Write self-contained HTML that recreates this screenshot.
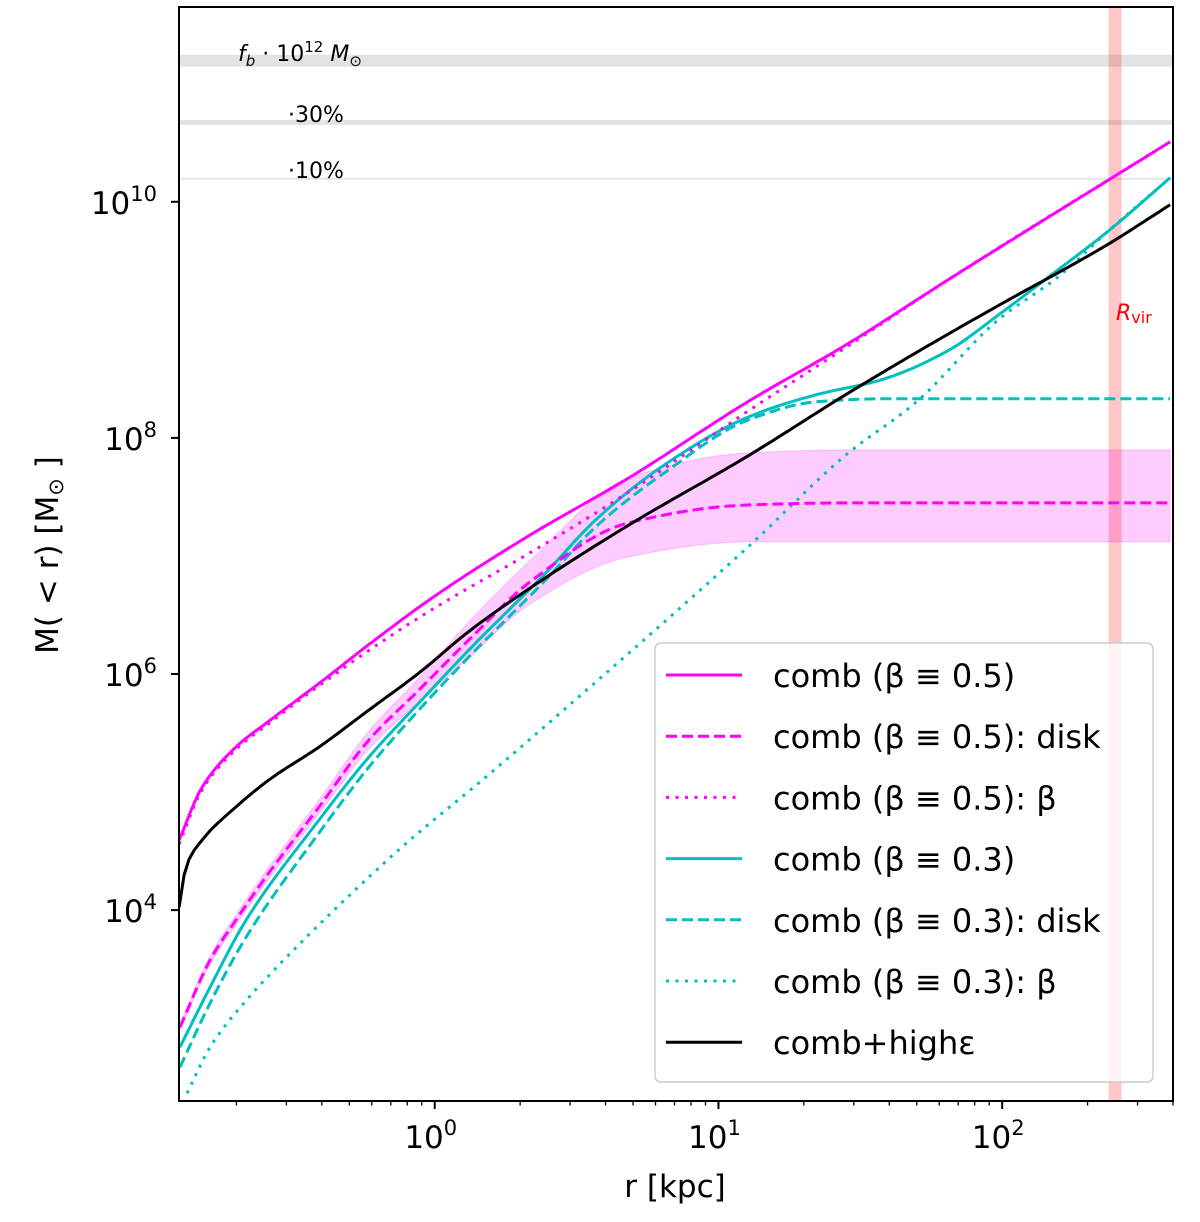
<!DOCTYPE html>
<html><head><meta charset="utf-8"><style>
html,body{margin:0;padding:0;background:#fff;}
svg text{font-family:"DejaVu Sans","Liberation Sans",sans-serif;fill:#000;}
</style></head><body>
<svg id="chart" width="1200" height="1217" viewBox="0 0 1200 1217" xmlns="http://www.w3.org/2000/svg">
<defs><clipPath id="plotclip"><rect x="179" y="7" width="994" height="1094"/></clipPath></defs>
<g id="plot" clip-path="url(#plotclip)"></g>
<g id="axes"></g>
<g id="legend"></g>
</svg>
<script>
// axis domains (log10)
const xDomain = [-0.9014, 2.6021];
const yDomain = [2.383, 11.65];
// horizontal reference levels (log10 M)
const refLevels = [11.195, 10.672, 10.195];
const refLabels = ["f_b \u00b7 10^12 M\u2299", "\u00b730%", "\u00b710%"];
const rvirLog = 2.398;
const xTicks = [0, 1, 2];
const yTicks = [4, 6, 8, 10];

// series: log10 r and log10 M
const magSolidR = [-0.901,-0.820,-0.701,-0.585,-0.408,-0.232,0,0.331,0.683,1.106,1.458,1.810,2.592];
const magSolidM = [4.593,5.042,5.381,5.60,5.92,6.25,6.66,7.17,7.66,8.31,8.80,9.34,10.508];
const magDotR = [-0.901,-0.820,-0.701,-0.585,-0.408,-0.232,0,0.331,0.683,1.106,1.458,1.810,2.592];
const magDotM = [4.56,5.02,5.36,5.58,5.90,6.20,6.56,7.02,7.54,8.23,8.78,9.34,10.508];
const magDiskR = [-0.898,-0.792,-0.701,-0.585,-0.408,-0.232,-0.056,0.120,0.331,0.683,1.106,1.458,2.592];
const magDiskM = [3.008,3.576,3.915,4.314,4.873,5.441,5.864,6.288,6.771,7.280,7.432,7.449,7.449];
const magBandHi = [3.034,3.610,3.958,4.364,4.932,5.517,5.966,6.441,6.949,7.661,7.873,7.898,7.898];
const magBandLo = [2.983,3.542,3.873,4.263,4.814,5.364,5.763,6.136,6.585,6.992,7.119,7.119,7.119];
const cyaSolidR = [-0.898,-0.792,-0.665,-0.408,-0.232,-0.056,0.120,0.391,0.567,0.799,1.106,1.342,1.574,1.810,1.986,2.162,2.373,2.592];
const cyaSolidM = [2.839,3.347,3.915,4.763,5.297,5.754,6.203,6.856,7.305,7.754,8.178,8.364,8.492,8.74,9.04,9.36,9.75,10.203];
const cyaDiskR = [-0.898,-0.792,-0.665,-0.408,-0.232,-0.056,0.120,0.391,0.567,0.799,1.106,1.342,1.574,2.592];
const cyaDiskM = [2.669,3.212,3.771,4.653,5.212,5.695,6.144,6.797,7.246,7.686,8.153,8.305,8.331,8.331];
const cyaDotR = [-0.873,-0.792,-0.673,-0.556,-0.373,-0.116,0.180,0.507,1.106,1.458,1.694,1.986,2.197,2.373,2.592];
const cyaDotM = [2.449,2.839,3.212,3.517,3.958,4.534,5.127,5.805,7.08,7.873,8.297,9.0,9.364,9.75,10.203];
const blackR = [-0.901,-0.877,-0.820,-0.701,-0.585,-0.408,-0.232,-0.056,0.120,0.331,0.683,1.106,1.458,1.810,1.986,2.373,2.592];
const blackM = [4.025,4.364,4.593,4.873,5.102,5.381,5.695,6.008,6.36,6.72,7.26,7.85,8.38,8.88,9.12,9.64,9.975];

const legendLabels = ["comb (\u03b2 \u2261 0.5)","comb (\u03b2 \u2261 0.5): disk","comb (\u03b2 \u2261 0.5): \u03b2","comb (\u03b2 \u2261 0.3)","comb (\u03b2 \u2261 0.3): disk","comb (\u03b2 \u2261 0.3): \u03b2","comb+high\u03b5"];

const PL=179, PR=1173, PT=7, PB=1101;
function X(v){return PL+(v-xDomain[0])/(xDomain[1]-xDomain[0])*(PR-PL);}
function Y(v){return PB-(v-yDomain[0])/(yDomain[1]-yDomain[0])*(PB-PT);}
const NS="http://www.w3.org/2000/svg";
function mk(tag,parent,attrs){const e=document.createElementNS(NS,tag);for(const k in attrs)e.setAttribute(k,attrs[k]);parent.appendChild(e);return e;}
function mono(xs,ys){
  const n=xs.length, d=[], m=new Array(n);
  for(let i=0;i<n-1;i++)d.push((ys[i+1]-ys[i])/(xs[i+1]-xs[i]));
  m[0]=d[0];m[n-1]=d[n-2];
  for(let i=1;i<n-1;i++){ if(d[i-1]*d[i]<=0)m[i]=0; else { const w1=2*(xs[i+1]-xs[i])+(xs[i]-xs[i-1]), w2=(xs[i+1]-xs[i])+2*(xs[i]-xs[i-1]); m[i]=(w1+w2)/(w1/d[i-1]+w2/d[i]); } }
  const out=[];
  const N=200;
  for(let k=0;k<=N;k++){
    const x=xs[0]+(xs[n-1]-xs[0])*k/N;
    let i=0; while(i<n-2&&x>xs[i+1])i++;
    const h=xs[i+1]-xs[i], t=(x-xs[i])/h;
    const h00=2*t*t*t-3*t*t+1,h10=t*t*t-2*t*t+t,h01=-2*t*t*t+3*t*t,h11=t*t*t-t*t;
    out.push([X(x),Y(h00*ys[i]+h10*h*m[i]+h01*ys[i+1]+h11*h*m[i+1])]);
  }
  return out;
}
function toD(p){return "M"+p.map(q=>q[0].toFixed(1)+","+q[1].toFixed(1)).join("L");}
const plot=document.getElementById('plot'), axes=document.getElementById('axes'), leg=document.getElementById('legend');

const refW=[12,5,2], refC=["#e3e3e3","#e3e3e3","#e6e6e6"];
refLevels.forEach((lv,i)=>{
  const r=mk('rect',plot,{x:PL,y:Y(lv)-refW[i]/2,width:PR-PL,height:refW[i],fill:refC[i]});
  
  
});
const t0=mk('text',plot,{x:238,y:61,'font-size':22});


t0.innerHTML='<tspan font-style="italic">f</tspan><tspan font-style="italic" font-size="15" dy="5">b</tspan><tspan dy="-5"> \u00b7 10</tspan><tspan font-size="15" dy="-9">12</tspan><tspan dy="9" font-style="italic"> M</tspan><tspan font-size="15" dy="5">\u2299</tspan>';
const t1=mk('text',plot,{x:288,y:122,'font-size':22});t1.textContent=refLabels[1];


const t2=mk('text',plot,{x:288,y:178,'font-size':22});t2.textContent=refLabels[2];



const hiP=mono(magDiskR,magBandHi), loP=mono(magDiskR,magBandLo).reverse();
const band=mk('path',plot,{d:toD(hiP.concat(loP))+"Z",fill:"#ff00ff","fill-opacity":0.2,stroke:"#ff00ff","stroke-opacity":0.2,"stroke-width":1});



const rv=mk('rect',plot,{x:X(rvirLog)-6.5,y:PT,width:13,height:PB-PT,fill:"#ff0000","fill-opacity":0.22});



const series=[
 {r:cyaDotR,m:cyaDotM,c:"#00bfbf",dash:"3,6.5",name:"cyan-beta-line"},
 {r:cyaDiskR,m:cyaDiskM,c:"#00bfbf",dash:"11,5",name:"cyan-disk-line"},
 {r:cyaSolidR,m:cyaSolidM,c:"#00bfbf",dash:"",name:"cyan-comb-line"},
 {r:magDotR,m:magDotM,c:"#ff00ff",dash:"3,6.5",name:"magenta-beta-line"},
 {r:magDiskR,m:magDiskM,c:"#ff00ff",dash:"11,5",name:"magenta-disk-line"},
 {r:magSolidR,m:magSolidM,c:"#ff00ff",dash:"",name:"magenta-comb-line"},
 {r:blackR,m:blackM,c:"#000000",dash:"",name:"comb-high-epsilon-line"}
];
series.forEach(s=>{
  const p=mk('path',plot,{d:toD(mono(s.r,s.m)),fill:"none",stroke:s.c,"stroke-width":3,"stroke-linejoin":"round"});
  if(s.dash)p.setAttribute('stroke-dasharray',s.dash);
  
  
});
const rt=mk('text',plot,{x:1116,y:320,'font-size':22});


rt.innerHTML='<tspan font-style="italic" style="fill:#ff0000">R</tspan><tspan font-size="16" dy="3" style="fill:#ff0000">vir</tspan>';

const fr=mk('rect',axes,{x:PL,y:PT,width:PR-PL,height:PB-PT,fill:"none",stroke:"#000","stroke-width":2});


for(let dec=-1;dec<=2;dec++){
  for(let k=1;k<=9;k++){
    const v=dec+Math.log10(k);
    if(v<xDomain[0]||v>xDomain[1])continue;
    const x=X(v), len=(k===1)?8:4.5;
    const tl=mk('line',axes,{x1:x,y1:PB,x2:x,y2:PB+len,stroke:"#000","stroke-width":(k===1)?2:1.3});
    
    
  }
}
xTicks.forEach(v=>{
  const t=mk('text',axes,{x:X(v)-4,y:1148,'font-size':31,'text-anchor':'middle'});
  t.innerHTML='10<tspan font-size="21" dy="-13">'+v+'</tspan>';
  
  
});
yTicks.forEach(v=>{
  const y=Y(v);
  const tl=mk('line',axes,{x1:PL-8,y1:y,x2:PL,y2:y,stroke:"#000","stroke-width":2});
  
  
  const t=mk('text',axes,{x:157,y:y+12,'font-size':31,'text-anchor':'end'});
  t.innerHTML='10<tspan font-size="21" dy="-13">'+v+'</tspan>';
  
  
});
const xl=mk('text',axes,{x:675,y:1197,'font-size':31,'text-anchor':'middle'});
xl.textContent='r [kpc]';


const yl=mk('text',axes,{x:0,y:0,'font-size':31,'text-anchor':'middle',transform:'translate(58,555) rotate(-90)'});
yl.innerHTML='M( &lt; r) [M<tspan font-size="21" dy="5">\u2299</tspan><tspan dy="-5"> ]</tspan>';



const lb=mk('rect',leg,{x:655,y:643,width:498,height:439,rx:6,fill:"#ffffff","fill-opacity":0.8,stroke:"#cccccc","stroke-width":1.5});


const legStyles=[["#ff00ff",""],["#ff00ff","11,5"],["#ff00ff","3,6.5"],["#00bfbf",""],["#00bfbf","11,5"],["#00bfbf","3,6.5"],["#000000",""]];
legendLabels.forEach((lab,i)=>{
  const y=675+i*61.2;
  const g=mk('g',leg,{});
  
  
  const l=mk('line',g,{x1:666,y1:y,x2:742,y2:y,stroke:legStyles[i][0],"stroke-width":3});
  if(legStyles[i][1])l.setAttribute('stroke-dasharray',legStyles[i][1]);
  
  
  const t=mk('text',g,{x:773,y:y+12,'font-size':32});
  t.textContent=lab;
  
  
});
</script>
</body></html>
